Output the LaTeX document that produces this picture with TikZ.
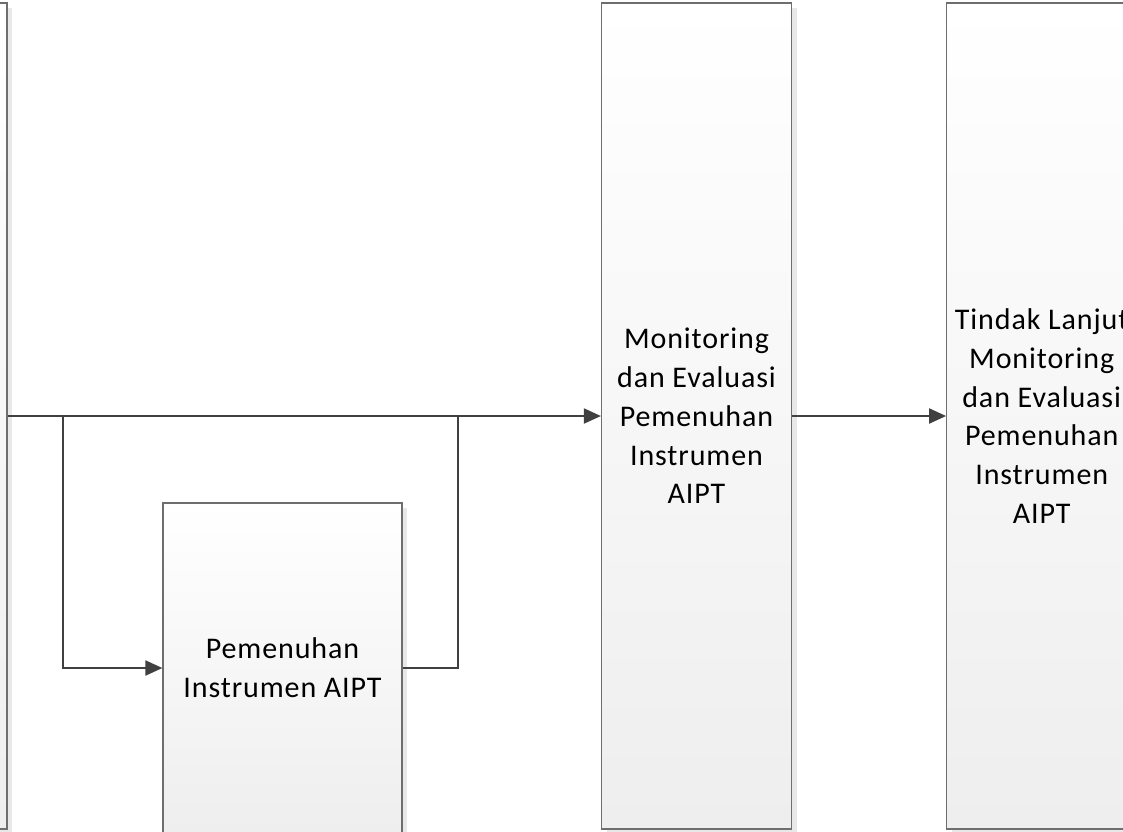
\documentclass[tikz,border=0pt]{standalone}
\usepackage{fontspec}
\setmainfont{Carlito}
\newfontfamily\boxfont[LetterSpace=3]{Carlito}
\usetikzlibrary{arrows.meta,positioning,shadows}
\definecolor{boxline}{HTML}{6E6E6E}
\definecolor{boxbottom}{HTML}{EEEEEE}
\definecolor{flowline}{HTML}{404040}
\tikzset{
  procbox/.style={rectangle, draw=boxline, line width=1.2pt,
    top color=white, bottom color=boxbottom,
    general shadow={fill=black!9, shadow xshift=5pt, shadow yshift=-5pt},
    font=\boxfont\fontsize{30}{38.8}\selectfont, align=center,
    inner sep=0pt, minimum width=190pt, minimum height=826pt},
  smallbox/.style={procbox, minimum width=239pt, minimum height=330pt},
  arrflow/.style={-{Triangle[length=17pt, width=15pt]}, line width=2pt, flowline},
  lineflow/.style={line width=2pt, flowline},
}

\begin{document}
\begin{tikzpicture}[x=1pt, y=-1pt]
\useasboundingbox (0,0) rectangle (1123,831);
\clip (0,0) rectangle (1123,831);

% ---------------- BOXES ----------------
\node[procbox] (n-left) at (-88,416) {};
\node[smallbox] (n-pemenuhan) at (282.5,668) {Pemenuhan\\Instrumen AIPT};
\node[procbox] (n-monev) at (696.5,416)
  {Monitoring\\dan Evaluasi\\Pemenuhan\\Instrumen\\AIPT};
\node[procbox, right=154pt of n-monev] (n-tindak)
  {Tindak Lanjut\\Monitoring\\dan Evaluasi\\Pemenuhan\\Instrumen\\AIPT};

% ---------------- BRANCH POINTS ----------------
\coordinate (c-split) at (63,416);
\coordinate (c-join) at (458,416);

% ---------------- ARROWS ----------------
\draw[arrflow] (n-left.east) -- (n-monev.west);
\draw[arrflow] (c-split) |- (n-pemenuhan.west);
\draw[lineflow] (n-pemenuhan.east) -| (c-join);
\draw[arrflow] (n-monev.east) -- (n-tindak.west);

\end{tikzpicture}
\end{document}
